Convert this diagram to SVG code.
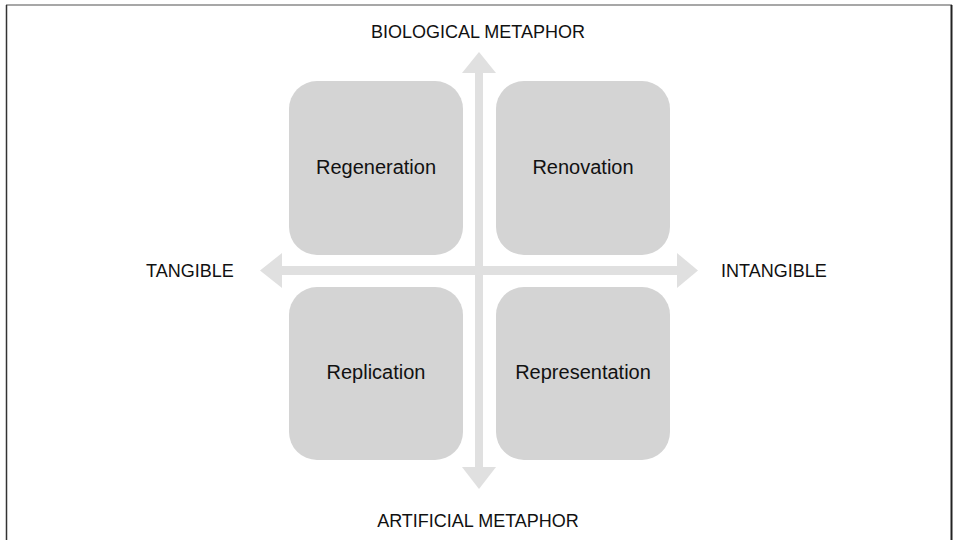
<svg xmlns="http://www.w3.org/2000/svg" width="955" height="540" viewBox="0 0 955 540">
  <style>
    .box { fill: #d4d4d4; }
    .axis { fill: #e0e0e0; }
    .lbl { font-family: "Liberation Sans", Arial, sans-serif; font-size: 20px; fill: #111; text-anchor: middle; }
    .ax { font-family: "Liberation Sans", Arial, sans-serif; font-size: 18px; fill: #111; }
  </style>
  <rect x="0" y="0" width="955" height="540" fill="#ffffff"/>
  <g id="frame">
    <line x1="6" y1="5" x2="952" y2="5" stroke="#8a8a8a" stroke-width="1.5"/>
    <line x1="6.5" y1="5" x2="6.5" y2="540" stroke="#333" stroke-width="1.5"/>
    <line x1="951.5" y1="5" x2="951.5" y2="540" stroke="#222" stroke-width="2"/>
  </g>
  <g id="node-regeneration">
    <rect class="box" x="289" y="81" width="174" height="174" rx="28"/>
    <text class="lbl" x="376" y="174">Regeneration</text>
  </g>
  <g id="node-renovation">
    <rect class="box" x="496" y="81" width="174" height="174" rx="28"/>
    <text class="lbl" x="583" y="174">Renovation</text>
  </g>
  <g id="node-replication">
    <rect class="box" x="289" y="287" width="174" height="173" rx="28"/>
    <text class="lbl" x="376" y="379">Replication</text>
  </g>
  <g id="node-representation">
    <rect class="box" x="496" y="287" width="174" height="173" rx="28"/>
    <text class="lbl" x="583" y="379">Representation</text>
  </g>
  <g id="connectors">
    <rect class="axis" x="475" y="72" width="8" height="396"/>
    <polygon class="axis" points="479,52 496,73 462,73"/>
    <polygon class="axis" points="479,489 496,467 462,467"/>
    <rect class="axis" x="281" y="266" width="397" height="9"/>
    <polygon class="axis" points="260,270.5 282,253 282,288"/>
    <polygon class="axis" points="698,270.5 677,253 677,288"/>
  </g>
  <g id="axis-labels">
    <text class="ax" x="478" y="38" text-anchor="middle">BIOLOGICAL METAPHOR</text>
    <text class="ax" x="478" y="527" text-anchor="middle">ARTIFICIAL METAPHOR</text>
    <text class="ax" x="146" y="277">TANGIBLE</text>
    <text class="ax" x="721" y="277">INTANGIBLE</text>
  </g>
</svg>
